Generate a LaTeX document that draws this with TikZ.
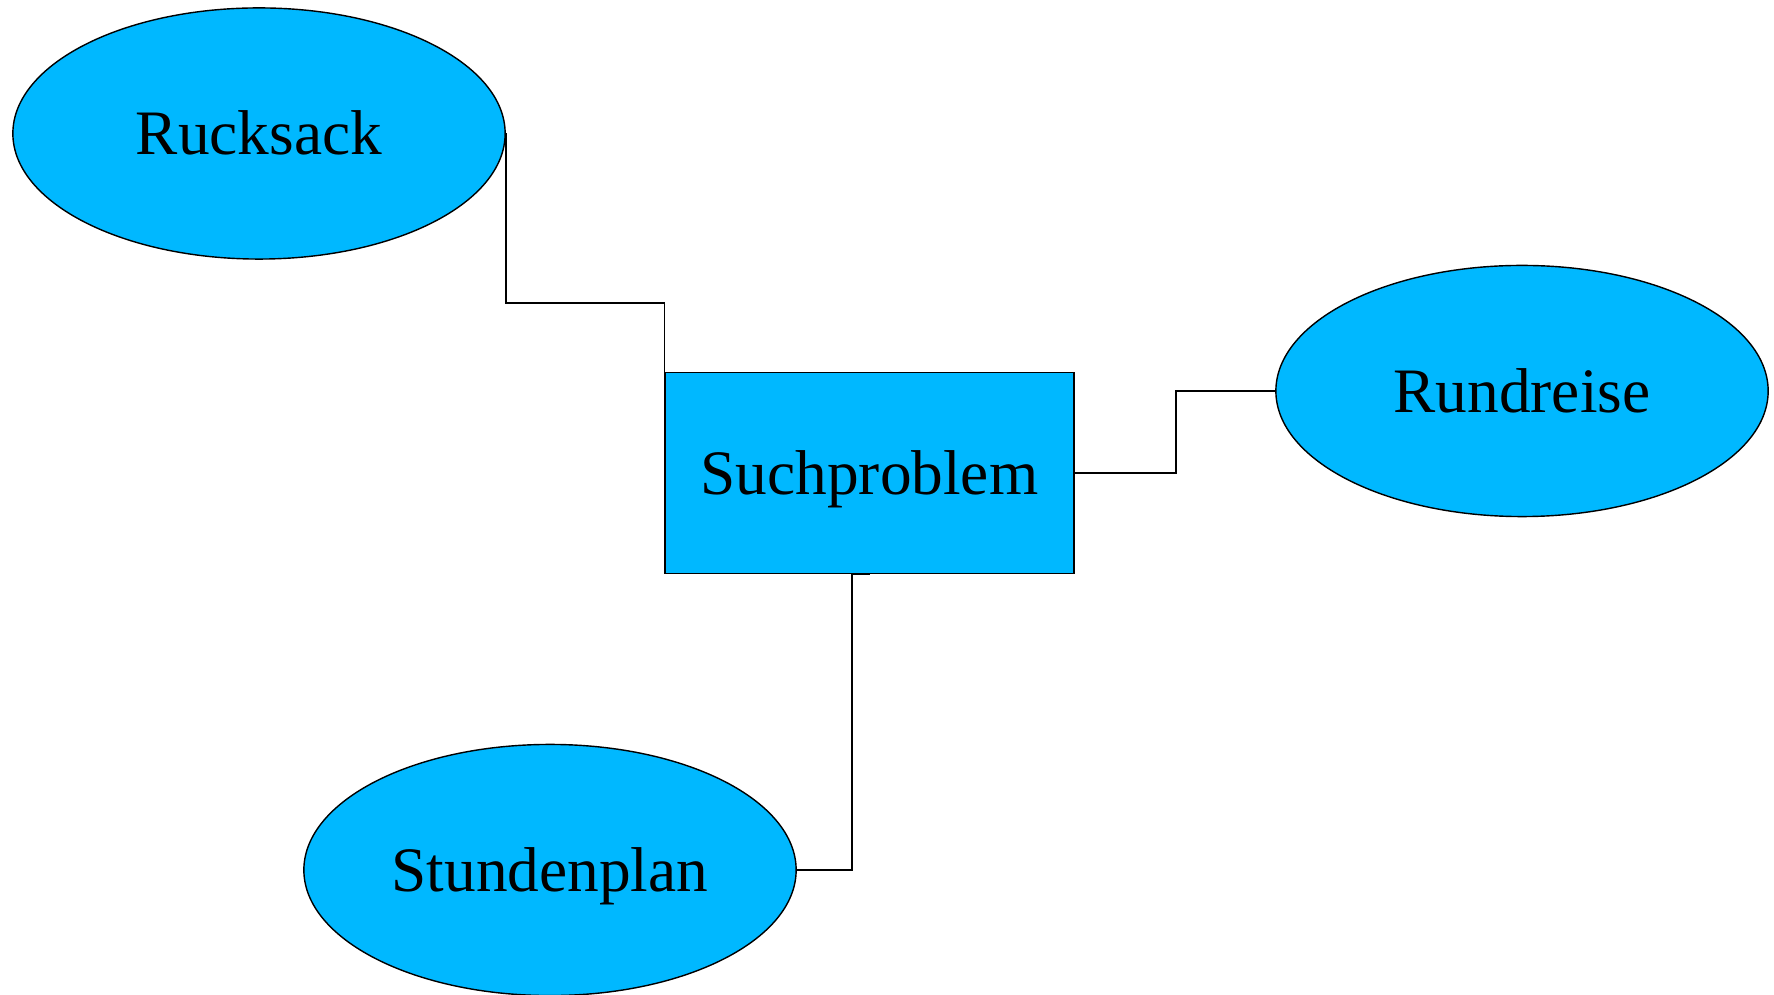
\documentclass[tikz,border=0pt]{standalone}
\usepackage{fontspec}
\setmainfont{Liberation Serif}
\usetikzlibrary{shapes.geometric}
\usetikzlibrary{positioning}
\definecolor{boxblue}{RGB}{0,184,255}

\begin{document}
\begin{tikzpicture}[x=0.01cm,y=-0.01cm,semithick,font=\fontsize{18}{22}\selectfont]
 \tikzstyle{problem node}=[rectangle,draw,thin,fill=boxblue,minimum width=4.085cm,minimum height=2.005cm,inner sep=0,text height=16pt,text depth=3.9pt]
 \tikzset{
 	example node/.style={ellipse,draw,thin,fill=boxblue,minimum width=4.92cm,minimum height=2.51cm,inner sep=0,text height=16pt,text depth=3.9pt},
 	link/.style={draw,thin}
 }
 \useasboundingbox (0,0) rectangle (1774,995);

       \node[problem node] (such) at (869.5,473) {Suchproblem};
       \node[example node] (ruck) at (259,133.5) {Rucksack};
       \node[example node] (rund) at (1522,391) {Rundreise};
       \node[example node] (stund) at (550,870) {Stundenplan};

     \path[link] (ruck.east) -- ++(0,169.5) -| (such.west);
     \path[link] (such.east) -- ++(101.5,0) |- (rund.west);
     \path[link] (such.south) -- ++(-17.5,0) |- (stund.east);
 \end{tikzpicture}
\end{document}
